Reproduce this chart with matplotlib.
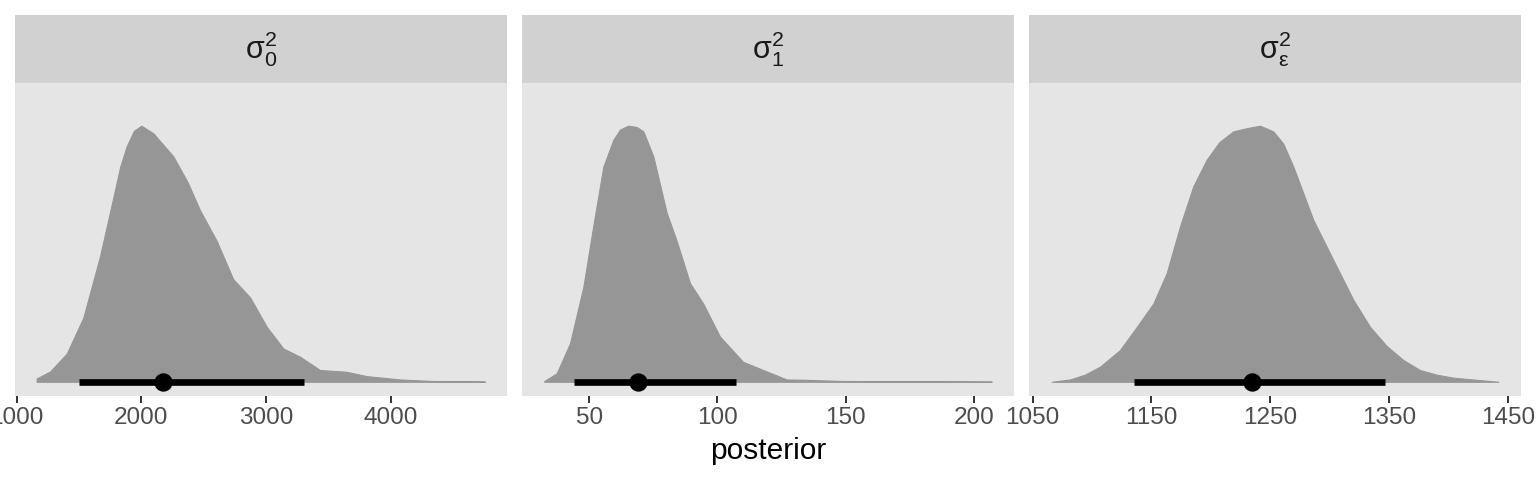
import matplotlib
matplotlib.use("Agg")
import matplotlib.pyplot as plt
import numpy as np

plt.rcParams['font.family'] = ['Liberation Sans', 'DejaVu Sans']
plt.rcParams['mathtext.fontset'] = 'custom'
plt.rcParams['mathtext.rm'] = 'Liberation Sans'
plt.rcParams['mathtext.it'] = 'Liberation Sans:italic'

# facet labels
params = [r'$\mathrm{σ}_{\mathrm{0}}^{\mathrm{2}}$',
          r'$\mathrm{σ}_{\mathrm{1}}^{\mathrm{2}}$',
          r'$\mathrm{σ}_{\mathrm{ε}}^{\mathrm{2}}$']

# posterior densities (x value, height relative to peak)
dens0_x = [1160, 1267, 1401, 1534, 1668, 1775, 1830, 1882, 1940, 2000, 2096, 2256, 2370, 2470,
           2604, 2737, 2871, 3005, 3138, 3272, 3432, 3646, 3807, 4074, 4341, 4755]
dens0_h = [0.013, 0.04, 0.11, 0.25, 0.49, 0.72, 0.84, 0.92, 0.98, 1.0, 0.97, 0.88, 0.78, 0.67,
           0.55, 0.40, 0.33, 0.215, 0.13, 0.098, 0.046, 0.039, 0.022, 0.009, 0.003, 0.001]

dens1_x = [32.5, 37.3, 42.5, 47.7, 51.6, 55.5, 59.4, 62.0, 65.2, 68.5, 71.1, 75.0, 80.2,
           84.1, 89.3, 94.4, 101.0, 110.0, 117.8, 127.0, 133.4, 149.0, 175.0, 206.9]
dens1_h = [0.003, 0.033, 0.15, 0.37, 0.61, 0.84, 0.945, 0.985, 1.0, 0.995, 0.978, 0.88, 0.66,
           0.55, 0.385, 0.306, 0.176, 0.078, 0.046, 0.009, 0.008, 0.003, 0.002, 0.001]

dens2_x = [1066, 1081.4, 1094, 1106.7, 1123.5, 1137, 1151.6, 1162.8, 1174, 1185.2, 1196.5,
           1207, 1218.9, 1230, 1241.4, 1252.6, 1261, 1269.5, 1286.3, 1303.1, 1320, 1334,
           1348, 1362.1, 1376.1, 1390, 1404.2, 1442.1]
dens2_h = [0.0, 0.009, 0.028, 0.059, 0.124, 0.21, 0.306, 0.424, 0.606, 0.763, 0.867,
           0.935, 0.978, 0.99, 1.0, 0.978, 0.93, 0.84, 0.632, 0.476, 0.32, 0.215,
           0.14, 0.085, 0.046, 0.028, 0.016, 0.0]

dens_x = [dens0_x, dens1_x, dens2_x]
dens_h = [dens0_h, dens1_h, dens2_h]

# point (median) and 95% interval
medians = [2176, 68.9, 1234.9]
lower = [1500, 44.2, 1135.3]
upper = [3304, 107.2, 1346.7]

# axis setup per facet
xlims = [(986.4, 4932), (23.8, 215.6), (1046.9, 1461.2)]
xticks = [[1000, 2000, 3000, 4000], [50, 100, 150, 200], [1050, 1150, 1250, 1350, 1450]]

W, H = 1536, 480
fig = plt.figure(figsize=(W / 100, H / 100), dpi=100)

lefts = [15, 522, 1029]
pw = 492
for i in range(3):
    l = lefts[i] / W
    ax = fig.add_axes([l, 1 - 396 / H, pw / W, 313 / H])
    ax.set_facecolor('#E5E5E5')
    for s in ax.spines.values():
        s.set_visible(False)

    x = np.array(dens_x[i])
    h = np.array(dens_h[i]) * 0.9
    ax.fill_between(x, 0, h, color='#969696', linewidth=0.8, edgecolor='#969696', zorder=2)
    ax.plot([lower[i], upper[i]], [0, 0], color='black', linewidth=4.8,
            solid_capstyle='butt', zorder=3)
    ax.plot([medians[i]], [0], 'o', color='black', markersize=12.2, zorder=4)

    ax.set_xlim(*xlims[i])
    ax.set_ylim(-0.05, 1.05)
    ax.set_xticks(xticks[i])
    ax.set_xticklabels([str(t) for t in xticks[i]])
    ax.set_yticks([])
    ax.tick_params(axis='x', length=5, width=1.4, color='#333333', labelsize=17.5,
                   labelcolor='#4D4D4D', pad=3)

    # strip
    sax = fig.add_axes([l, 1 - 83 / H, pw / W, 68 / H])
    sax.set_facecolor('#D1D1D1')
    for s in sax.spines.values():
        s.set_visible(False)
    sax.set_xticks([])
    sax.set_yticks([])
    sax.text(0.5, 0.5, params[i], ha='center', va='center', fontsize=22,
             color='#1A1A1A', transform=sax.transAxes)

fig.text(0.5, 1 - 459 / H, 'posterior', ha='center', va='baseline', fontsize=21.5,
         color='black')

fig.savefig('out.png', dpi=100)
